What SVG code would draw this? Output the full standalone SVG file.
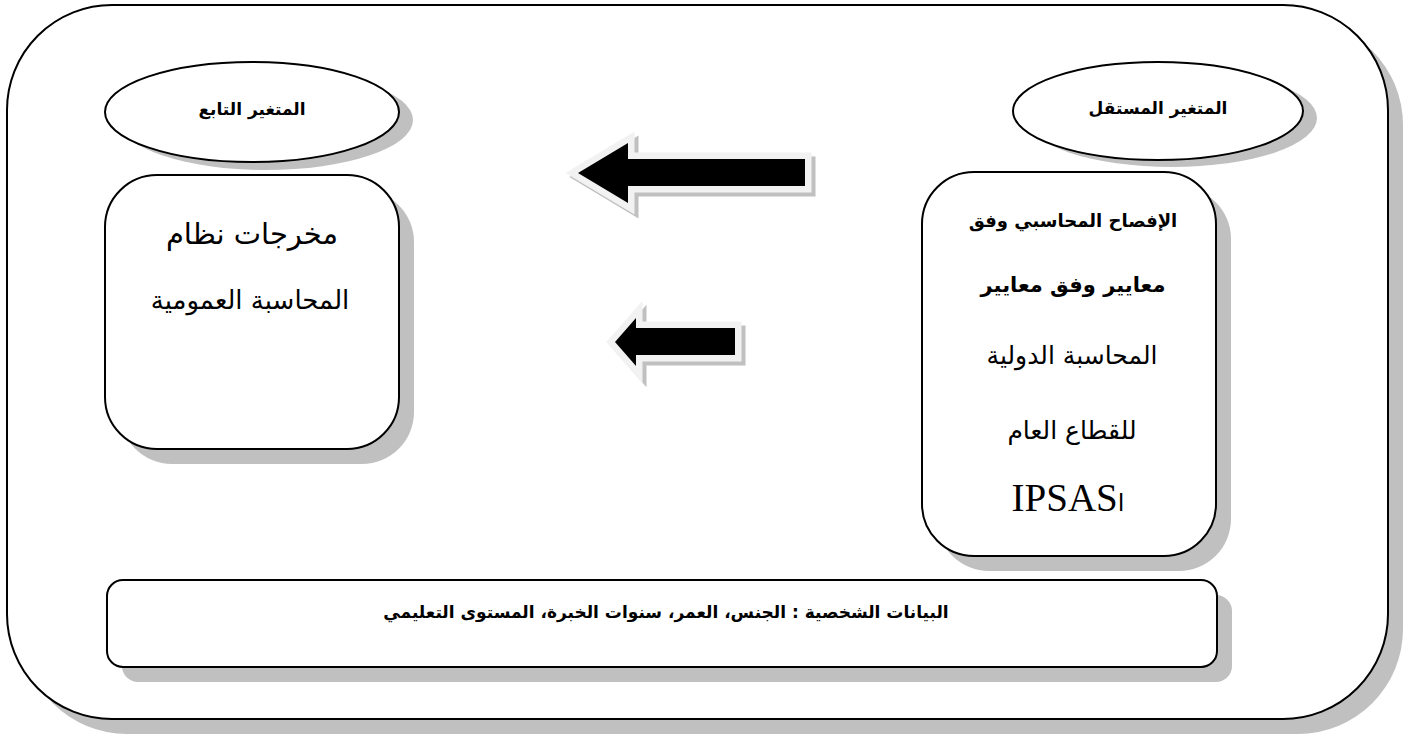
<svg xmlns="http://www.w3.org/2000/svg" width="1416" height="737" viewBox="0 0 1416 737">
<style>
.sh{fill:#c0c0c0;stroke:none}
.bx{fill:#ffffff;stroke:#000000;stroke-width:2}
.ar{font-family:"DejaVu Sans",sans-serif;fill:#000;text-anchor:middle}
.b{font-weight:bold}
.arrow{fill:#000;stroke:#f2f2f2;stroke-width:13;stroke-linejoin:miter;stroke-miterlimit:10;paint-order:stroke}
.arrowsh{fill:#c0c0c0;stroke:#c0c0c0;stroke-width:13;stroke-linejoin:miter;stroke-miterlimit:10}
</style>
<rect width="1416" height="737" fill="#ffffff"/>
<g id="frame">
<rect class="sh" x="22" y="20" width="1381" height="714" rx="105" ry="105"/>
<rect class="bx" x="7" y="5" width="1381" height="714" rx="105" ry="105"/>
</g>
<g id="node-dependent-label">
<ellipse class="sh" cx="266" cy="120" rx="147" ry="50"/>
<ellipse class="bx" cx="252" cy="112" rx="147" ry="50"/>
<text class="ar b" x="252" y="115" font-size="17">المتغير التابع</text>
</g>
<g id="node-independent-label">
<ellipse class="sh" cx="1172" cy="118" rx="145" ry="49"/>
<ellipse class="bx" cx="1158" cy="111" rx="145" ry="49"/>
<text class="ar b" x="1158" y="114" font-size="17">المتغير المستقل</text>
</g>
<g id="node-dependent">
<rect class="sh" x="120" y="190" width="294" height="274" rx="52" ry="52"/>
<rect class="bx" x="105" y="175" width="294" height="274" rx="52" ry="52"/>
<text class="ar" x="252" y="244" font-size="29">مخرجات نظام</text>
<text class="ar" x="250" y="309" font-size="26">المحاسبة العمومية</text>
</g>
<g id="node-independent">
<rect class="sh" x="937" y="187" width="294" height="384" rx="52" ry="52"/>
<rect class="bx" x="922" y="172" width="294" height="384" rx="52" ry="52"/>
<text class="ar b" x="1073" y="227" font-size="18">الإفصاح المحاسبي  وفق</text>
<text class="ar b" x="1073" y="292" font-size="21">معايير وفق معايير</text>
<text class="ar" x="1072" y="364" font-size="25">المحاسبة الدولية</text>
<text class="ar" x="1072" y="439" font-size="25">للقطاع العام</text>
<text x="1068" y="511" font-size="39" font-family="Liberation Serif, serif" text-anchor="middle" fill="#000">IPSAS<tspan font-size="24" font-family="DejaVu Sans, sans-serif">ا</tspan></text>
</g>
<g id="node-personal">
<rect class="sh" x="122" y="595" width="1110" height="87" rx="16" ry="16"/>
<rect class="bx" x="107" y="580" width="1110" height="87" rx="16" ry="16"/>
<text class="ar b" x="666" y="618" font-size="17">البيانات الشخصية : الجنس، العمر، سنوات الخبرة، المستوى التعليمي</text>
</g>
<g id="connectors">
<polygon class="arrowsh" transform="translate(4,4)" points="578,173 628,143 628,159 805,159 805,186 628,186 628,203"/>
<polygon class="arrow" points="578,173 628,143 628,159 805,159 805,186 628,186 628,203"/>
<polygon class="arrowsh" transform="translate(4,4)" points="615,342 636,318 636,328 735,328 735,355 636,355 636,366"/>
<polygon class="arrow" points="615,342 636,318 636,328 735,328 735,355 636,355 636,366"/>
</g>
</svg>
